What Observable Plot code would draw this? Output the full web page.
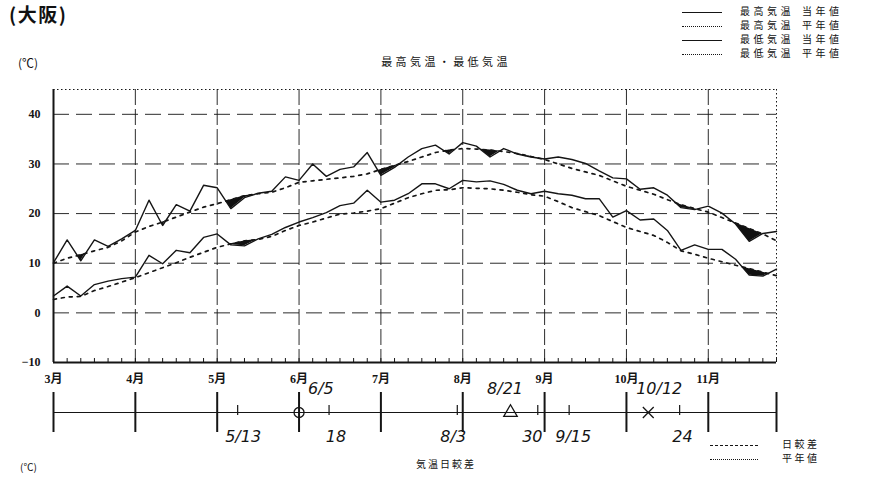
<!DOCTYPE html>
<html><head><meta charset="utf-8">
<script src="https://cdn.jsdelivr.net/npm/d3@7"></script>
<script src="https://cdn.jsdelivr.net/npm/@observablehq/plot@0.6"></script>
<style>
html,body{margin:0;padding:0;background:#fff;}
#page{position:relative;width:876px;height:477px;overflow:hidden;background:#fff;font-family:"Noto Sans CJK JP",sans-serif;color:#111;}
.abs{position:absolute;white-space:nowrap;line-height:1;}
#city{left:9px;top:4px;font-size:19px;font-weight:bold;letter-spacing:1.5px;}
#unit{left:18px;top:57px;font-size:12px;}
#title{left:446px;top:56px;font-size:11px;letter-spacing:3.4px;transform:translateX(-50%);}
.lg{left:682px;font-size:10px;letter-spacing:3.5px;}
.lg .ln{display:inline-block;width:40px;vertical-align:middle;margin-right:18px;}
.lg .b{display:inline-block;width:8px;}
#main{left:0;top:80px;}
#tl{left:0;top:388px;}
#sub{left:446px;top:459px;font-size:10px;letter-spacing:2px;transform:translateX(-50%);}
.bl{left:710px;font-size:10px;letter-spacing:2.5px;}
.bl .ln{display:inline-block;width:48px;vertical-align:middle;margin-right:24px;}
#unit2{left:20px;top:462px;font-size:10px;}
.plotsvg text{font-family:"Liberation Serif","Noto Sans CJK JP",serif;font-weight:bold;}
</style></head>
<body><div id="page">
<div class="abs" id="city">(大阪)</div>
<div class="abs" id="unit">(℃)</div>
<div class="abs" id="title">最高気温・最低気温</div>
<div id="legend"></div>
<div class="abs" id="main"></div>
<div class="abs" id="tl"></div>
<div class="abs" id="sub">気温日較差</div>
<div id="legend2"></div>
<div class="abs" id="unit2">(℃)</div>
</div>
<script>
// ---- data (5-day periods from 1 March; 6 per month) ----
const monthLabels = ["3月","4月","5月","6月","7月","8月","9月","10月","11月"];
const monthStarts = [0,6,12,18,24,30,36,42,48];
const lastPeriod = 53;
const yTicks = [-10,0,10,20,30,40];
const gridY = [0,10,20,30,40];

const maxNow  = [10.1,14.7,10.5,14.7,13.4,14.9,16.6,22.7,17.6,21.8,20.5,25.7,25.2,21.0,23.2,24.1,24.5,27.4,26.7,30.0,27.5,28.9,29.4,32.3,27.7,29.3,31.4,33.1,33.8,32.0,34.3,33.6,31.4,33.1,32.0,31.4,31.0,31.4,30.9,30.1,28.6,27.2,27.0,24.9,25.2,23.7,21.2,20.8,21.5,20.1,17.9,14.4,16.0,16.4];
const maxNorm = [10.0,11.0,11.7,12.5,13.2,14.5,16.3,17.4,18.3,19.3,20.3,21.3,22.0,22.8,23.6,24.0,24.3,25.2,26.3,26.6,26.9,27.2,27.5,28.0,28.9,29.7,30.5,31.4,32.3,32.8,33.1,33.0,32.8,32.5,32.1,31.5,30.9,30.0,29.1,28.4,27.7,26.6,25.5,24.7,23.9,22.8,21.8,21.0,20.3,19.2,18.1,17.0,15.9,14.5];
const minNow  = [3.4,5.4,3.4,5.7,6.4,6.9,7.2,11.6,9.9,12.6,12.1,15.2,15.9,13.7,13.5,14.9,15.8,17.2,18.3,19.2,20.2,21.6,22.1,24.7,22.3,22.7,24.0,26.0,26.0,25.0,26.7,26.4,26.6,25.9,24.7,24.0,24.5,24.0,23.7,23.0,23.0,19.3,20.6,18.7,18.9,16.6,12.6,13.7,12.8,12.8,10.8,7.6,7.4,8.8];
const minNorm = [2.7,3.2,3.3,4.5,5.3,6.2,7.1,8.1,9.1,10.1,11.2,12.2,13.2,13.9,14.5,14.8,15.4,16.6,17.6,18.3,19.1,19.9,20.1,20.5,21.0,22.1,23.2,24.0,24.7,24.8,25.2,25.1,25.0,24.7,24.3,23.8,23.5,22.4,21.2,20.4,19.6,18.4,17.2,16.4,15.6,14.2,12.5,11.8,11.0,10.3,9.6,8.9,8.2,7.5];

// handwritten notes on the daily-range strip (x in periods)
const noteTicks = [13.5, 20.2, 29.6, 35.5, 37.8, 45.9];
const noteLabels = ["5/13","6/5","18","8/3","8/21","30","9/15","10/12","24"];
const noteX      = [13.9, 19.6, 20.7, 29.3, 33.1, 35.1, 38.1, 44.4, 46.1];
const noteSide   = ["below","above","below","below","above","below","below","above","below"];
const markX      = [18.0, 33.5, 43.6];
const markSymbol = ["circle","triangle","times"];

const legendRows = [
  {name:"最高気温", kind:"当年値", dash:"solid", w:1},
  {name:"最高気温", kind:"平年値", dash:"dotted", w:1.5},
  {name:"最低気温", kind:"当年値", dash:"solid", w:1.6},
  {name:"最低気温", kind:"平年値", dash:"dotted", w:1.5}
];
const legend2Rows = [{name:"日較差", dash:"dashed"},{name:"平年値", dash:"dotted"}];

// ---- derived ----
const periods = d3.range(lastPeriod + 1);
const rows = periods.map(i => ({i, maxNow:maxNow[i], maxNorm:maxNorm[i], minNow:minNow[i], minNorm:minNorm[i]}));
function deficit(now, norm){
  const out = [];
  for (let i = 0; i < now.length; i++){
    out.push({x:i, lo:now[i], hi:Math.max(now[i], norm[i])});
    if (i < now.length - 1){
      const d0 = now[i]-norm[i], d1 = now[i+1]-norm[i+1];
      if (d0*d1 < 0){ const t = d0/(d0-d1); const y = now[i]+t*(now[i+1]-now[i]); out.push({x:i+t, lo:y, hi:y}); }
    }
  }
  return out;
}
const defMax = deficit(maxNow, maxNorm), defMin = deficit(minNow, minNorm);

const W = 876, ML = 53, MR = 100;
const ink = "#151515";

const main = Plot.plot({
  width: W, height: 310,
  marginLeft: ML, marginRight: MR, marginTop: 9, marginBottom: 28,
  className: "plotsvg",
  style: {fontSize: "12px", background: "transparent", color: ink},
  x: {domain:[0,lastPeriod], ticks: monthStarts, tickFormat: d => monthLabels[monthStarts.indexOf(d)], tickSize: 0, tickPadding: 12, label: null},
  y: {domain:[-10,45], ticks: yTicks, tickSize: 0, tickPadding: 13, label: null},
  marks: [
    Plot.ruleY(gridY, {stroke: ink, strokeWidth: 1, strokeDasharray: "16,7", strokeOpacity: 0.9}),
    Plot.ruleX(monthStarts.slice(1), {stroke: ink, strokeWidth: 1, strokeDasharray: "16,4", strokeOpacity: 0.9}),
    Plot.ruleY([45], {stroke: ink, strokeWidth: 1, strokeDasharray: "1.5,2.5"}),
    Plot.ruleX([lastPeriod], {stroke: ink, strokeWidth: 1, strokeDasharray: "1.5,2.5"}),
    Plot.ruleX(periods, {y1: -10, y2: -9.2, stroke: ink, strokeWidth: 1}),
    Plot.areaY(defMax, {x:"x", y1:"lo", y2:"hi", fill: "#111", curve:"linear"}),
    Plot.areaY(defMin, {x:"x", y1:"lo", y2:"hi", fill: "#111", curve:"linear"}),
    Plot.line(rows, {x:"i", y:"maxNorm", stroke: ink, strokeWidth: 1.7, strokeDasharray: "3,5"}),
    Plot.line(rows, {x:"i", y:"minNorm", stroke: ink, strokeWidth: 1.7, strokeDasharray: "3,5"}),
    Plot.line(rows, {x:"i", y:"maxNow", stroke: ink, strokeWidth: 1.4}),
    Plot.line(rows, {x:"i", y:"minNow", stroke: ink, strokeWidth: 1.4}),
    Plot.ruleX([0], {stroke: ink, strokeWidth: 2}),
    Plot.ruleY([-10], {stroke: ink, strokeWidth: 2})
  ]
});
document.getElementById("main").appendChild(main);

const notes = noteLabels.map((label, k) => ({label, x: noteX[k], side: noteSide[k]}));
const marks3 = markX.map((x, k) => ({x, symbol: markSymbol[k]}));
const strip = Plot.plot({
  width: W, height: 62,
  marginLeft: ML, marginRight: MR, marginTop: 4, marginBottom: 18,
  x: {domain:[0,lastPeriod], axis: null},
  y: {domain:[-1,1], axis: null},
  style: {background:"transparent", overflow:"visible"},
  marks: [
    Plot.ruleY([0], {x1: 0, x2: lastPeriod, stroke: ink, strokeWidth: 1.2}),
    Plot.ruleX([...monthStarts, lastPeriod], {y1: -1, y2: 1, stroke: ink, strokeWidth: 2}),
    Plot.ruleX(noteTicks, {y1: -0.15, y2: 0.35, stroke: ink, strokeWidth: 1.2}),
    Plot.dot(marks3, {x:"x", y:0, symbol:"symbol", r: 5, stroke: ink, strokeWidth: 1.3, fill: "none"}),
    Plot.text(notes, {x:"x", y: d => d.side === "above" ? 1.2 : -1.2, text:"label", fontSize: 16, fontStyle:"italic", fontFamily:"'DejaVu Sans', sans-serif", fill: ink, fontWeight: "normal"})
  ]
});
strip.style.overflow = "visible";
document.getElementById("tl").appendChild(strip);

// legends
const lg = document.getElementById("legend");
const lgTops = [6, 20, 34, 48];
legendRows.forEach((r, k) => {
  const d = document.createElement("div");
  d.className = "abs lg"; d.style.top = lgTops[k] + "px";
  d.innerHTML = `<span class="ln" style="border-top:${r.w}px ${r.dash} ${ink}"></span>${r.name}<span class="b"></span>${r.kind}`;
  lg.appendChild(d);
});
const lg2 = document.getElementById("legend2");
[439, 453].forEach((t, k) => {
  const d = document.createElement("div");
  d.className = "abs bl"; d.style.top = t + "px";
  d.innerHTML = `<span class="ln" style="border-top:1px ${legend2Rows[k].dash} ${ink}"></span>${legend2Rows[k].name}`;
  lg2.appendChild(d);
});
</script>
</body></html>
